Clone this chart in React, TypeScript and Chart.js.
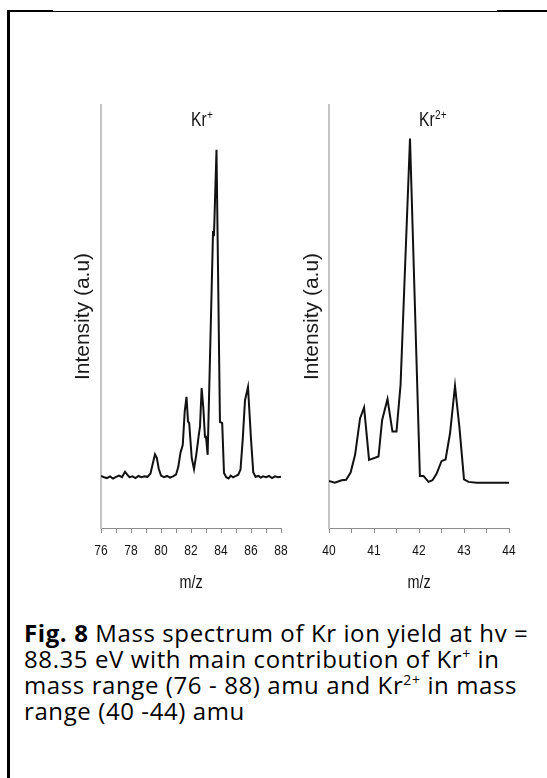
import React, { useEffect, useRef } from "react";
import { Chart, registerables } from "chart.js";

Chart.register(...registerables);

// ---------- data ----------
const krPlusMz = [
  76.0, 76.2, 76.4, 76.6, 76.8, 77.0, 77.2, 77.4, 77.6, 77.75, 77.9, 78.1, 78.3, 78.5, 78.7, 78.9,
  79.1, 79.3, 79.45, 79.6, 79.72, 79.85, 80.0, 80.2, 80.4, 80.6, 80.8, 81.0, 81.15, 81.3, 81.45,
  81.58, 81.7, 81.8, 81.88, 82.05, 82.2, 82.35, 82.5, 82.6, 82.71, 82.82, 82.93, 83.0, 83.11,
  83.47, 83.53, 83.7, 83.93, 84.08, 84.2, 84.35, 84.5, 84.65, 84.8, 85.0, 85.15, 85.3, 85.45,
  85.6, 85.8, 86.0, 86.15, 86.3, 86.5, 86.65, 86.8, 87.0, 87.2, 87.4, 87.6, 87.8, 88.0,
];
const krPlusIntensity = [
  12.3, 12.0, 11.8, 12.2, 11.7, 12.1, 12.4, 12.0, 13.3, 12.6, 12.0, 12.2, 11.8, 12.3, 12.0, 12.2,
  12.1, 12.9, 15.2, 17.4, 16.6, 14.0, 12.4, 12.0, 12.3, 11.9, 12.2, 12.6, 14.4, 17.8, 19.6,
  27.5, 31.0, 25.2, 24.8, 16.5, 13.9, 17.3, 21.5, 24.0, 33.1, 28.5, 21.6, 21.6, 17.3,
  70.2, 69.0, 89.4, 25.1, 24.8, 13.0, 12.0, 11.7, 12.4, 12.0, 12.3, 12.6, 13.8, 21.0,
  30.2, 33.3, 21.0, 13.2, 12.1, 12.3, 11.9, 12.2, 12.0, 12.3, 11.8, 12.2, 12.0, 12.1,
];

const kr2Mz = [
  40.0, 40.13, 40.28, 40.38, 40.48, 40.58, 40.69, 40.78, 40.89, 41.1, 41.18, 41.3, 41.41, 41.5,
  41.59, 41.8, 42.02, 42.1, 42.21, 42.3, 42.39, 42.5, 42.59, 42.69, 42.8, 42.9, 43.0, 43.1,
  43.28, 43.5, 43.8, 44.0,
];
const kr2Intensity = [
  11.1, 10.7, 11.3, 11.4, 13.1, 17.3, 25.9, 28.5, 16.1, 16.9, 25.5, 30.5, 22.8, 22.8,
  33.8, 92.1, 12.3, 12.3, 10.9, 11.3, 12.8, 15.8, 16.2, 22.4, 33.6, 23.6, 11.5, 10.9,
  10.7, 10.7, 10.7, 10.7,
];

const krPlusTickLabels = [76, 78, 80, 82, 84, 86, 88];
const kr2TickLabels = [40, 41, 42, 43, 44];

const REGULAR = "'Liberation Sans', Arial, sans-serif";
const SQUEEZE = 0.8; // emulate a narrow sans face

// Draws the narrow-face texts (tick labels, axis title, panel title) using the chart's own scale.
const narrowTextPlugin = {
  id: "narrowText",
  afterDraw(chart: any, _args: any, opts: any) {
    const { ctx, chartArea, scales } = chart;
    const xs = scales.x;
    const draw = (text: string, x: number, y: number, size: number, align: CanvasTextAlign) => {
      ctx.save();
      ctx.font = `${size}px ${REGULAR}`;
      ctx.fillStyle = "#111";
      ctx.textBaseline = "alphabetic";
      ctx.textAlign = align;
      ctx.translate(x, y);
      ctx.scale(SQUEEZE, 1);
      ctx.fillText(text, 0, 0);
      const w = ctx.measureText(text).width * SQUEEZE;
      ctx.restore();
      return w;
    };
    // tick labels
    (opts.labels as number[]).forEach((v) => {
      draw(String(v), xs.getPixelForValue(v), chartArea.bottom + 27, 15, "center");
    });
    // axis title
    draw(opts.xTitle, (chartArea.left + chartArea.right) / 2, chartArea.bottom + 60, 18, "center");
    // panel title with superscript
    const tx = chartArea.left + 90;
    const ty = chartArea.top + 21;
    const w = draw(opts.title, tx, ty, 19.5, "left");
    draw(opts.sup, tx + w + 0.5, ty - 7, 12.5, "left");
  },
};

function makeConfig(
  xs: number[],
  ys: number[],
  xmin: number,
  xmax: number,
  step: number,
  labels: number[],
  yWidth: number,
  titlePad: number,
  padRight: number,
  title: string,
  sup: string
): any {
  return {
    type: "line",
    data: {
      datasets: [
        {
          data: xs.map((x, i) => ({ x, y: ys[i] })),
          borderColor: "#111",
          borderWidth: 2,
          pointRadius: 0,
          tension: 0,
          fill: false,
        },
      ],
    },
    plugins: [narrowTextPlugin],
    options: {
      animation: false,
      responsive: false,
      events: [],
      layout: { padding: { left: 0, right: padRight, top: 105, bottom: 12 } },
      plugins: {
        legend: { display: false },
        tooltip: { enabled: false },
        narrowText: { labels, xTitle: "m/z", title, sup },
      },
      scales: {
        x: {
          type: "linear",
          min: xmin,
          max: xmax,
          afterFit: (s: any) => {
            s.height = 70;
          },
          border: { display: true, color: "#8c8c8c", width: 1 },
          grid: {
            display: true,
            drawOnChartArea: false,
            drawTicks: true,
            tickLength: 5,
            color: "#8c8c8c",
            lineWidth: 1,
          },
          ticks: {
            display: false,
            stepSize: step,
            autoSkip: false,
            maxRotation: 0,
          },
          title: { display: false },
        },
        y: {
          type: "linear",
          min: 0,
          max: 100,
          afterFit: (s: any) => {
            s.width = yWidth;
          },
          border: { display: true, color: "#c4c4c4", width: 2 },
          grid: { display: false, drawTicks: false },
          ticks: { display: false },
          title: {
            display: true,
            text: "Intensity (a.u)",
            color: "#1a1a1a",
            font: { family: REGULAR, size: 21 },
            padding: { top: titlePad, bottom: 0 },
          },
        },
      },
    },
  };
}

const supStyle: React.CSSProperties = { fontSize: 14, lineHeight: 0 };

export default function App() {
  const leftRef = useRef<HTMLCanvasElement>(null);
  const rightRef = useRef<HTMLCanvasElement>(null);

  useEffect(() => {
    const c1 = new Chart(
      leftRef.current as HTMLCanvasElement,
      makeConfig(krPlusMz, krPlusIntensity, 76, 88, 1, krPlusTickLabels, 101, 70.4, 14, "Kr", "+")
    );
    const c2 = new Chart(
      rightRef.current as HTMLCanvasElement,
      makeConfig(kr2Mz, kr2Intensity, 40, 44, 0.5, kr2TickLabels, 34, 4.4, 38, "Kr", "2+")
    );
    return () => {
      c1.destroy();
      c2.destroy();
    };
  }, []);

  return (
    <div
      style={{
        position: "absolute",
        left: 0,
        top: 0,
        width: 547,
        height: 778,
        background: "#fff",
        overflow: "hidden",
      }}
    >
      {/* frame */}
      <div style={{ position: "absolute", left: 7, top: 10, width: 3, height: 768, background: "#000" }} />
      <div style={{ position: "absolute", left: 7, top: 11, width: 540, height: 1, background: "#000" }} />
      <div style={{ position: "absolute", left: 7, top: 10, width: 46, height: 2, background: "#000" }} />
      <div style={{ position: "absolute", left: 497, top: 10, width: 50, height: 2, background: "#000" }} />

      <canvas ref={leftRef} width={295} height={610} style={{ position: "absolute", left: 0, top: 0 }} />
      <canvas ref={rightRef} width={252} height={610} style={{ position: "absolute", left: 295, top: 0 }} />

      <div
        style={{
          position: "absolute",
          left: 24,
          top: 620,
          fontFamily: "'Open Sans', Lato, sans-serif",
          fontSize: 24,
          letterSpacing: 0.6,
          lineHeight: "26px",
          color: "#000",
          whiteSpace: "nowrap",
        }}
      >
        <b>Fig. 8</b> Mass spectrum of Kr ion yield at hv =<br />
        88.35 eV with main contribution of Kr<sup style={supStyle}>+</sup> in
        <br />
        mass range (76 - 88) amu and Kr<sup style={supStyle}>2+</sup> in mass
        <br />
        range (40 -44) amu
      </div>
    </div>
  );
}
